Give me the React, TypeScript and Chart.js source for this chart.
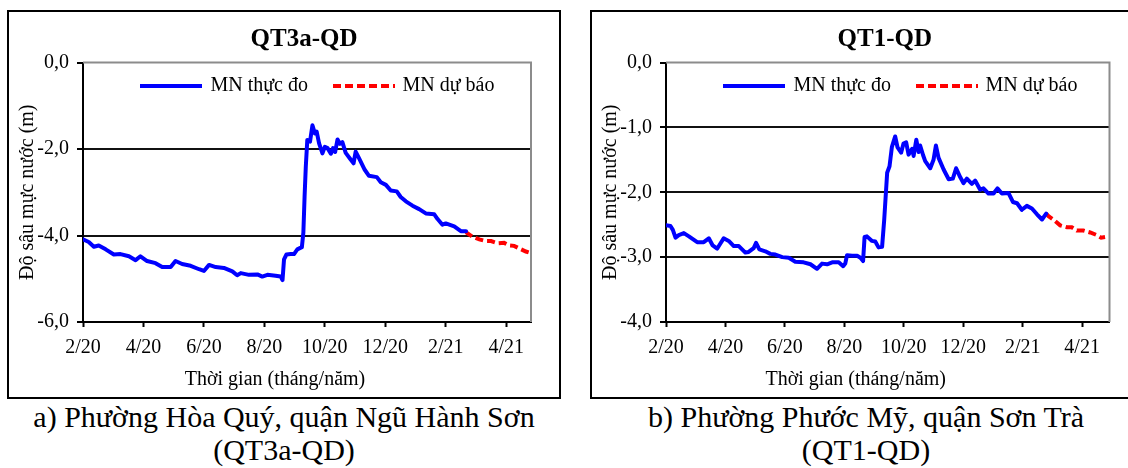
import React, { useEffect, useRef } from 'react';
import { Chart, registerables } from 'chart.js';

Chart.register(...registerables);

const FONT = '"Liberation Serif", "Times New Roman", Times, serif';

// x = months since Feb 2020 (0 = 2/20)
const TICK_MONTHS = [0, 2, 4, 6, 8, 10, 12, 14];
const TICK_LABELS = ['2/20', '4/20', '6/20', '8/20', '10/20', '12/20', '2/21', '4/21'];

const X_TITLE = 'Thời gian (tháng/năm)';
const Y_TITLE = 'Độ sâu mực nước (m)';
const SERIES_LABELS = ['MN thực đo', 'MN dự báo'];

// ---- a) QT3a-QD ----
const A_TITLE = 'QT3a-QD';
const A_Y_TICKS = [-6, -4, -2, 0];
const A_X_MAX = 14.82;
const A_OBS_MONTH = [
  0, 0.19, 0.36, 0.52, 0.75, 1.02, 1.24, 1.52, 1.74, 1.9, 2.12, 2.4, 2.62, 2.9, 3.06, 3.28,
  3.56, 3.84, 4.0, 4.17, 4.39, 4.66, 4.94, 5.1, 5.22, 5.49, 5.77, 5.93, 6.1, 6.37, 6.54, 6.6,
  6.65, 6.73, 6.87, 6.98, 7.09, 7.24, 7.29, 7.33, 7.37, 7.42, 7.51, 7.59, 7.67, 7.73, 7.81,
  7.92, 8.0, 8.09, 8.2, 8.27, 8.34, 8.42, 8.5, 8.58, 8.69, 8.86, 8.95, 9.02, 9.13, 9.32, 9.46,
  9.72, 9.85, 10.02, 10.18, 10.38, 10.51, 10.68, 10.9, 11.12, 11.34, 11.62, 11.73, 11.89, 12.0,
  12.28, 12.5, 12.67,
];
const A_OBS_VALUE = [
  -4.09, -4.15, -4.26, -4.23, -4.32, -4.44, -4.43, -4.48, -4.57, -4.48, -4.59, -4.64, -4.73,
  -4.73, -4.59, -4.66, -4.7, -4.78, -4.82, -4.68, -4.73, -4.75, -4.83, -4.92, -4.87, -4.91,
  -4.9, -4.95, -4.91, -4.93, -4.95, -5.03, -4.55, -4.44, -4.43, -4.43, -4.32, -4.27, -3.93,
  -3.1, -2.41, -1.79, -1.83, -1.45, -1.64, -1.6, -1.87, -2.1, -1.95, -1.98, -2.11, -1.98,
  -2.07, -1.78, -1.88, -1.84, -2.09, -2.25, -2.33, -2.06, -2.21, -2.48, -2.62, -2.65, -2.77,
  -2.83, -2.96, -2.98, -3.11, -3.21, -3.31, -3.39, -3.49, -3.51, -3.62, -3.75, -3.72, -3.79,
  -3.9, -3.9,
];
const A_FC_MONTH = [12.67, 12.7, 12.89, 13.11, 13.33, 13.5, 13.72, 13.93, 14.1, 14.26, 14.49, 14.65, 14.79];
const A_FC_VALUE = [-3.9, -3.94, -4.03, -4.09, -4.13, -4.13, -4.18, -4.17, -4.23, -4.24, -4.32, -4.37, -4.4];

// ---- b) QT1-QD ----
const B_TITLE = 'QT1-QD';
const B_Y_TICKS = [-4, -3, -2, -1, 0];
const B_X_MAX = 14.92;
const B_OBS_MONTH = [
  0, 0.15, 0.23, 0.32, 0.43, 0.6, 0.77, 1.05, 1.27, 1.44, 1.57, 1.72, 1.83, 1.94, 2.11, 2.28,
  2.45, 2.67, 2.78, 2.95, 3.03, 3.14, 3.34, 3.51, 3.68, 3.91, 4.13, 4.35, 4.63, 4.86, 5.08,
  5.25, 5.42, 5.59, 5.81, 5.96, 6.03, 6.09, 6.26, 6.43, 6.54, 6.63, 6.68, 6.76, 6.93, 7.04,
  7.15, 7.27, 7.34, 7.44, 7.52, 7.6, 7.71, 7.79, 7.91, 7.99, 8.08, 8.16, 8.28, 8.33, 8.42,
  8.5, 8.55, 8.65, 8.72, 8.89, 9.0, 9.08, 9.17, 9.34, 9.51, 9.65, 9.76, 9.9, 10.01, 10.12,
  10.29, 10.4, 10.57, 10.68, 10.85, 11.02, 11.15, 11.3, 11.52, 11.67, 11.81, 11.97, 12.14,
  12.31, 12.48, 12.65, 12.79,
];
const B_OBS_VALUE = [
  -2.51, -2.52, -2.58, -2.7, -2.66, -2.63, -2.68, -2.77, -2.77, -2.71, -2.82, -2.87, -2.79,
  -2.71, -2.75, -2.83, -2.83, -2.93, -2.92, -2.86, -2.78, -2.88, -2.91, -2.95, -2.96, -3.0,
  -3.01, -3.07, -3.08, -3.11, -3.18, -3.1, -3.11, -3.08, -3.08, -3.14, -3.1, -2.97, -2.98,
  -2.98, -3.01, -3.06, -2.69, -2.68, -2.75, -2.76, -2.85, -2.84, -2.43, -1.7, -1.6, -1.3,
  -1.14, -1.31, -1.39, -1.25, -1.23, -1.42, -1.33, -1.44, -1.19, -1.38, -1.28, -1.43, -1.52,
  -1.63, -1.5, -1.28, -1.47, -1.65, -1.8, -1.79, -1.63, -1.77, -1.86, -1.79, -1.87, -1.82,
  -1.96, -1.94, -2.02, -2.02, -1.94, -2.02, -2.01, -2.15, -2.17, -2.27, -2.21, -2.25, -2.34,
  -2.42, -2.33,
];
const B_FC_MONTH = [12.79, 12.87, 13.03, 13.26, 13.49, 13.65, 13.82, 14.04, 14.27, 14.49, 14.64, 14.77];
const B_FC_VALUE = [-2.33, -2.37, -2.42, -2.51, -2.54, -2.54, -2.59, -2.59, -2.62, -2.66, -2.7, -2.69];

const LEGEND_LINE_X = [57, 250];
const LEGEND_TEXT_X = [127.5, 319.5];
const LEGEND_LINE_LEN = 62;

function makeDecor(title: string) {
  return {
    id: 'decor',
    beforeDatasetsDraw(chart: any) {
      const { ctx, chartArea: a } = chart;
      ctx.save();
      ctx.strokeStyle = '#8c8c8c';
      ctx.lineWidth = 2;
      ctx.beginPath();
      ctx.moveTo(a.left, a.top);
      ctx.lineTo(a.right, a.top);
      ctx.lineTo(a.right, a.bottom);
      ctx.stroke();
      ctx.restore();
    },
    afterDraw(chart: any) {
      const { ctx, chartArea: a } = chart;
      const cx = (a.left + a.right) / 2;
      ctx.save();
      ctx.fillStyle = '#000';
      ctx.textBaseline = 'middle';
      ctx.textAlign = 'center';
      ctx.font = `bold 25px ${FONT}`;
      ctx.fillText(title, cx - 3, a.top - 22.5);
      ctx.font = `20px ${FONT}`;
      ctx.fillText(X_TITLE, cx - 32, a.bottom + 58);
      ctx.save();
      ctx.translate(a.left - 55, (a.top + a.bottom) / 2);
      ctx.rotate(-Math.PI / 2);
      ctx.fillText(Y_TITLE, 0, 0);
      ctx.restore();
      // legend
      const ly = a.top + 23.5;
      chart.data.datasets.forEach((ds: any, i: number) => {
        ctx.save();
        ctx.strokeStyle = ds.borderColor;
        ctx.lineWidth = ds.borderWidth;
        ctx.setLineDash(ds.borderDash || []);
        ctx.beginPath();
        ctx.moveTo(a.left + LEGEND_LINE_X[i], ly);
        ctx.lineTo(a.left + LEGEND_LINE_X[i] + LEGEND_LINE_LEN, ly);
        ctx.stroke();
        ctx.restore();
        ctx.textAlign = 'left';
        ctx.fillText(ds.label, a.left + LEGEND_TEXT_X[i], ly);
      });
      ctx.restore();
    },
  };
}

type PanelProps = {
  title: string;
  obsX: number[];
  obsY: number[];
  fcX: number[];
  fcY: number[];
  yTicks: number[];
  xMax: number;
  width: number;
  height: number;
  padRight: number;
};

function Panel(p: PanelProps) {
  const ref = useRef<HTMLCanvasElement | null>(null);
  useEffect(() => {
    if (!ref.current) return;
    const yMin = p.yTicks[0];
    const yMax = p.yTicks[p.yTicks.length - 1];
    const chart = new Chart(ref.current, {
      type: 'line',
      data: {
        datasets: [
          {
            label: SERIES_LABELS[0],
            data: p.obsX.map((x, i) => ({ x, y: p.obsY[i] })),
            borderColor: '#0000FF',
            borderWidth: 4,
            pointRadius: 0,
            tension: 0,
            borderJoinStyle: 'round',
            borderCapStyle: 'round',
            fill: false,
          },
          {
            label: SERIES_LABELS[1],
            data: p.fcX.map((x, i) => ({ x, y: p.fcY[i] })),
            borderColor: '#FF0000',
            borderWidth: 4,
            borderDash: [8, 4],
            pointRadius: 0,
            tension: 0,
            fill: false,
          },
        ],
      },
      options: {
        animation: false,
        responsive: true,
        maintainAspectRatio: false,
        layout: { padding: { top: 50.5, right: p.padRight, left: 0, bottom: 0 } },
        plugins: {
          legend: { display: false },
          title: { display: false },
          tooltip: { enabled: false },
        },
        scales: {
          x: {
            type: 'linear',
            min: 0,
            max: p.xMax,
            afterBuildTicks: (s: any) => {
              s.ticks = TICK_MONTHS.map((v) => ({ value: v }));
            },
            afterFit: (s: any) => {
              s.height = 75;
            },
            ticks: {
              autoSkip: false,
              maxRotation: 0,
              padding: 9,
              color: '#000',
              font: { family: FONT, size: 20 },
              callback: (_v: any, i: number) => TICK_LABELS[i],
            },
            grid: {
              drawOnChartArea: false,
              drawTicks: true,
              tickLength: 5,
              tickColor: '#000',
              tickWidth: 2,
            },
            border: { display: true, color: '#000', width: 2 },
          },
          y: {
            type: 'linear',
            min: yMin,
            max: yMax,
            afterBuildTicks: (s: any) => {
              s.ticks = p.yTicks.map((v) => ({ value: v }));
            },
            afterFit: (s: any) => {
              s.width = 74;
            },
            ticks: {
              padding: 8,
              color: '#000',
              font: { family: FONT, size: 20 },
              callback: (v: any) => Number(v).toFixed(1).replace('.', ','),
            },
            grid: {
              color: (c: any) =>
                c.tick && (c.tick.value === yMin || c.tick.value === yMax) ? 'rgba(0,0,0,0)' : '#111',
              lineWidth: 2,
              tickColor: '#000',
              tickLength: 6,
              tickWidth: 2,
            },
            border: { display: true, color: '#000', width: 2 },
          },
        },
      } as any,
      plugins: [makeDecor(p.title)],
    });
    return () => chart.destroy();
  }, []);
  return (
    <div style={{ position: 'absolute', left: 0, top: 0, width: p.width, height: p.height }}>
      <canvas ref={ref} />
    </div>
  );
}

const captionStyle: React.CSSProperties = {
  position: 'absolute',
  top: 400,
  fontFamily: FONT,
  fontSize: 30,
  lineHeight: '33px',
  textAlign: 'center',
  color: '#000',
  whiteSpace: 'nowrap',
};

export default function App() {
  return (
    <div
      style={{
        position: 'fixed',
        left: 0,
        top: 0,
        width: 1128,
        height: 468,
        background: '#fff',
        overflow: 'hidden',
      }}
    >
      <div
        style={{
          position: 'absolute',
          left: 7,
          top: 10,
          width: 554,
          height: 389,
          border: '2px solid #000',
          boxSizing: 'border-box',
        }}
      >
        <Panel
          title={A_TITLE}
          obsX={A_OBS_MONTH}
          obsY={A_OBS_VALUE}
          fcX={A_FC_MONTH}
          fcY={A_FC_VALUE}
          yTicks={A_Y_TICKS}
          xMax={A_X_MAX}
          width={550}
          height={385}
          padRight={28}
        />
      </div>
      <div
        style={{
          position: 'absolute',
          left: 590,
          top: 10,
          width: 560,
          height: 389,
          border: '2px solid #000',
          boxSizing: 'border-box',
        }}
      >
        <Panel
          title={B_TITLE}
          obsX={B_OBS_MONTH}
          obsY={B_OBS_VALUE}
          fcX={B_FC_MONTH}
          fcY={B_FC_VALUE}
          yTicks={B_Y_TICKS}
          xMax={B_X_MAX}
          width={536}
          height={385}
          padRight={18.5}
        />
      </div>
      <div style={{ ...captionStyle, left: 0, width: 568 }}>
        a) Phường Hòa Quý, quận Ngũ Hành Sơn
        <br />
        (QT3a-QD)
      </div>
      <div style={{ ...captionStyle, left: 604, width: 524 }}>
        b) Phường Phước Mỹ, quận Sơn Trà
        <br />
        (QT1-QD)
      </div>
    </div>
  );
}
